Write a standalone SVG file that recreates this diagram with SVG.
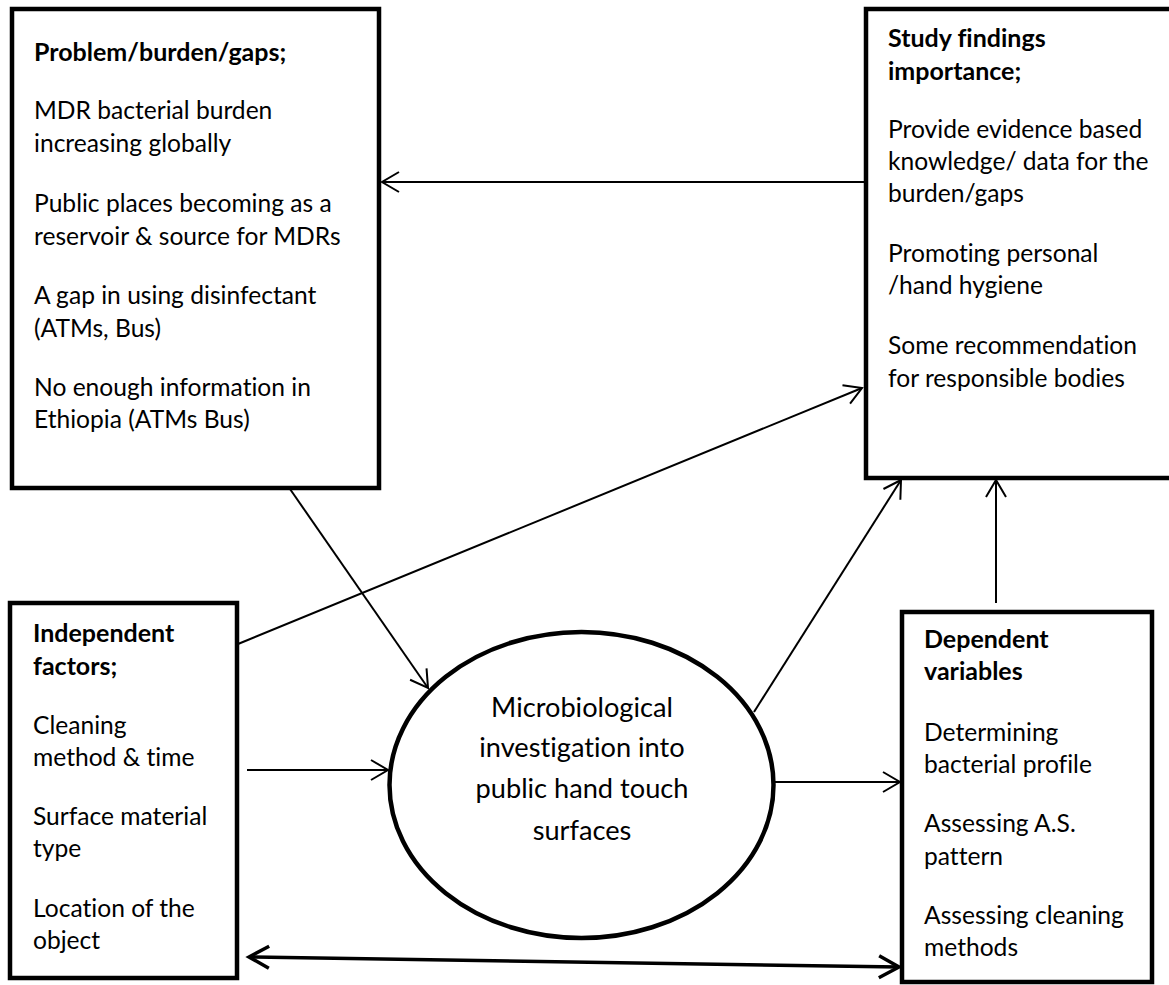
<svg xmlns="http://www.w3.org/2000/svg" width="1169" height="985" viewBox="0 0 1169 985">
<style>
  .t { font-family: Lato, "Open Sans", "Liberation Sans", sans-serif; font-size: 24.6px; fill: #000; font-variant-ligatures: none; }
  .b { font-weight: bold; font-size: 25px; }
  .et { font-family: Lato, "Open Sans", "Liberation Sans", sans-serif; font-size: 27.2px; fill: #000; text-anchor: middle; font-variant-ligatures: none; }
  .box { fill: #fff; stroke: #000; stroke-width: 4.5; }
  .c { fill: none; stroke: #000; stroke-width: 2; }
  .ct { fill: none; stroke: #000; stroke-width: 3.5; }
</style>
<defs>
  <marker id="arr" markerUnits="userSpaceOnUse" markerWidth="40" markerHeight="40" refX="0" refY="0" orient="auto" overflow="visible">
    <path d="M-17,-10 L0,0 L-17,10" fill="none" stroke="#000" stroke-width="2"/>
  </marker>
  <marker id="arrT" markerUnits="userSpaceOnUse" markerWidth="40" markerHeight="40" refX="0" refY="0" orient="auto-start-reverse" overflow="visible">
    <path d="M-20,-11 L0,0 L-20,11" fill="none" stroke="#000" stroke-width="3.5"/>
  </marker>
</defs>
<rect width="1169" height="985" fill="#fff"/>

<g id="connectors">
  <line class="c" x1="864" y1="182" x2="382" y2="182" marker-end="url(#arr)"/>
  <line class="c" x1="238" y1="644" x2="862" y2="388" marker-end="url(#arr)"/>
  <line class="c" x1="290" y1="489" x2="428" y2="688" marker-end="url(#arr)"/>
  <line class="c" x1="247" y1="770" x2="388" y2="770" marker-end="url(#arr)"/>
  <line class="c" x1="754" y1="712" x2="901" y2="480" marker-end="url(#arr)"/>
  <line class="c" x1="775" y1="782" x2="900" y2="782" marker-end="url(#arr)"/>
  <line class="c" x1="996" y1="603" x2="996" y2="480" marker-end="url(#arr)"/>
  <line class="ct" x1="249" y1="957" x2="899" y2="967" marker-start="url(#arrT)" marker-end="url(#arrT)"/>
</g>

<g id="problem">
  <rect class="box" x="12" y="9" width="367" height="479"/>
  <text class="t b" x="34" y="61">Problem/burden/gaps;</text>
  <text class="t" x="34" y="119">MDR bacterial burden</text>
  <text class="t" x="34" y="151.5">increasing globally</text>
  <text class="t" x="34" y="212">Public places becoming as a</text>
  <text class="t" x="34" y="244.5">reservoir &amp; source for MDRs</text>
  <text class="t" x="34" y="304">A gap in using disinfectant</text>
  <text class="t" x="34" y="336.5">(ATMs, Bus)</text>
  <text class="t" x="34" y="396">No enough information in</text>
  <text class="t" x="34" y="428">Ethiopia (ATMs Bus)</text>
</g>

<g id="findings">
  <rect class="box" x="866" y="9" width="310" height="469"/>
  <text class="t b" x="888" y="47">Study findings</text>
  <text class="t b" x="888" y="80">importance;</text>
  <text class="t" x="888" y="138">Provide evidence based</text>
  <text class="t" x="888" y="170">knowledge/ data for the</text>
  <text class="t" x="888" y="202">burden/gaps</text>
  <text class="t" x="888" y="262">Promoting personal</text>
  <text class="t" x="888" y="294">/hand hygiene</text>
  <text class="t" x="888" y="354">Some recommendation</text>
  <text class="t" x="888" y="387">for responsible bodies</text>
</g>

<g id="independent">
  <rect class="box" x="10" y="603" width="227" height="375"/>
  <text class="t b" x="33" y="642">Independent</text>
  <text class="t b" x="33" y="675">factors;</text>
  <text class="t" x="33" y="734">Cleaning</text>
  <text class="t" x="33" y="766">method &amp; time</text>
  <text class="t" x="33" y="825">Surface material</text>
  <text class="t" x="33" y="857">type</text>
  <text class="t" x="33" y="917">Location of the</text>
  <text class="t" x="33" y="949">object</text>
</g>

<g id="dependent">
  <rect class="box" x="902" y="612" width="250" height="370"/>
  <text class="t b" x="924" y="648">Dependent</text>
  <text class="t b" x="924" y="680">variables</text>
  <text class="t" x="924" y="741">Determining</text>
  <text class="t" x="924" y="773">bacterial profile</text>
  <text class="t" x="924" y="832">Assessing A.S.</text>
  <text class="t" x="924" y="865">pattern</text>
  <text class="t" x="924" y="924">Assessing cleaning</text>
  <text class="t" x="924" y="956">methods</text>
</g>

<g id="investigation">
  <ellipse cx="581.5" cy="785" rx="192" ry="153" fill="#fff" stroke="#000" stroke-width="4.5"/>
  <text class="et" x="582" y="717">Microbiological</text>
  <text class="et" x="582" y="757">investigation into</text>
  <text class="et" x="582" y="798">public hand touch</text>
  <text class="et" x="582" y="840">surfaces</text>
</g>
</svg>
